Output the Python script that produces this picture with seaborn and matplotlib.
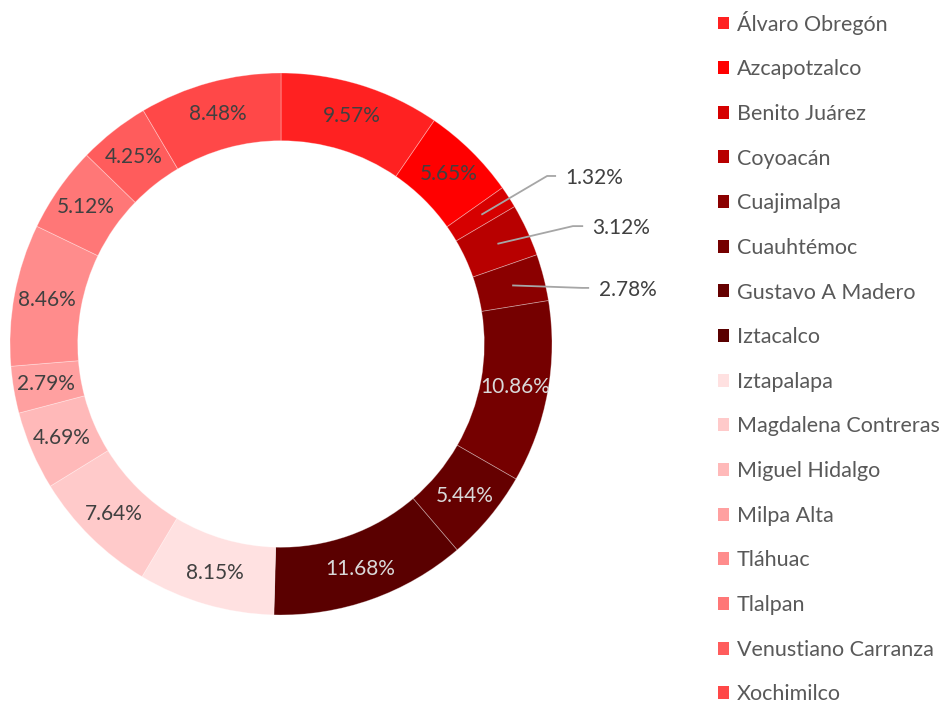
import matplotlib
matplotlib.use("Agg")
import numpy as np
import matplotlib.pyplot as plt
import seaborn as sns

# alcaldías y porcentaje (sentido horario desde arriba)
alcaldias = ["Álvaro Obregón", "Azcapotzalco", "Benito Juárez", "Coyoacán",
             "Cuajimalpa", "Cuauhtémoc", "Gustavo A Madero", "Iztacalco",
             "Iztapalapa", "Magdalena Contreras", "Miguel Hidalgo", "Milpa Alta",
             "Tláhuac", "Tlalpan", "Venustiano Carranza", "Xochimilco"]
porcentajes = [9.57, 5.65, 1.32, 3.12, 2.78, 10.86, 5.44, 11.68,
               8.15, 7.64, 4.69, 2.79, 8.46, 5.12, 4.25, 8.48]
colores = ["#FF2121", "#FF0000", "#D60000", "#B80000", "#8B0000", "#750000",
           "#650000", "#5A0000", "#FFE1E1", "#FFCACA", "#FFB9B9", "#FFA0A0",
           "#FF8C8C", "#FF7777", "#FF5C5C", "#FF4848"]
# etiquetas con texto claro
claras = ["Cuauhtémoc", "Gustavo A Madero", "Iztacalco"]
# etiquetas fuera del anillo: codo de la línea guía y posición del texto
fuera = {"Benito Juárez": ((0.982, 0.620), (1.050, 0.613)),
         "Coyoacán": ((1.077, 0.435), (1.150, 0.428)),
         "Cuajimalpa": ((1.111, 0.207), (1.172, 0.199))}

sns.set_theme(style="white")
plt.rcParams['font.family'] = ['Lato', 'DejaVu Sans']

fig = plt.figure(figsize=(9.5, 7.09), dpi=100)
ax = fig.add_axes([10 / 950, (709 - 615) / 709, 542 / 950, 542 / 709])

wedges, _ = ax.pie(porcentajes, colors=colores, startangle=90, counterclock=False,
                   radius=1.0, wedgeprops=dict(width=0.25, edgecolor=(1, 1, 1, 0.35), linewidth=0.6))

r_lab = 0.88
for w, nombre, val in zip(wedges, alcaldias, porcentajes):
    ang = np.deg2rad((w.theta1 + w.theta2) / 2)
    x, y = r_lab * np.cos(ang), r_lab * np.sin(ang)
    txt = f"{val:.2f}%"
    if nombre in fuera:
        codo, pos = fuera[nombre]
        ax.plot([x, codo[0], pos[0] - 0.035], [y, codo[1], codo[1]],
                color="#A6A6A6", lw=1.3, solid_capstyle="butt", clip_on=False)
        ax.text(pos[0], pos[1], txt, ha="left", va="center", fontsize=15,
                color="#404040")
    else:
        col = "#D9D9D9" if nombre in claras else "#404040"
        ax.text(x, y, txt, ha="center", va="center", fontsize=15, color=col)

ax.set_xlim(-1, 1)
ax.set_ylim(-1, 1)
ax.set_aspect("equal")
ax.axis("off")

leg = fig.legend(wedges, alcaldias, loc="upper left", bbox_to_anchor=(709 / 950, 1 - 2 / 709),
                 frameon=False, fontsize=15.5, labelspacing=1.145, handlelength=0.55,
                 handleheight=0.55, handletextpad=0.35, borderaxespad=0)
for t in leg.get_texts():
    t.set_color("#595959")
for h in leg.legend_handles:
    h.set_edgecolor("none")

fig.savefig("out.png", dpi=100)
